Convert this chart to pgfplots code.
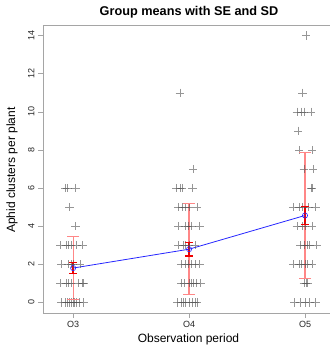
\documentclass[border=0pt]{standalone}
\usepackage{fontspec}
\setmainfont{Liberation Sans}
\usepackage{pgfplots}
\pgfplotsset{compat=1.18}
\definecolor{sdpink}{RGB}{255,135,135}
\definecolor{sered}{RGB}{240,0,0}
\definecolor{axgray}{RGB}{165,165,165}
\definecolor{ptgray}{RGB}{80,80,80}
\begin{document}
\begin{tikzpicture}
\useasboundingbox (-43pt,-36pt) rectangle (287pt,313pt);
\begin{axis}[
  at={(0,0)}, anchor=south west,
  scale only axis, width=287pt, height=288pt,
  xmin=0.74, xmax=3.2155, ymin=-0.56, ymax=14.56,
  axis x line*=box, axis y line*=left,
  axis line style={axgray, line width=0.8pt},
  xtick={1,2,3}, xticklabels={O3,O4,O5}, xtick pos=bottom,
  ytick={0,2,4,6,8,10,12,14},
  tick align=outside, major tick length=5pt,
  tick style={axgray, line width=0.6pt},
  ticklabel style={font=\fontsize{9}{10}\selectfont, text=black!85},
  yticklabel style={rotate=90, anchor=south},
  /pgf/number format/assume math mode=true,
  clip=false,
]
% individual observations
\addplot[only marks, mark=+, mark size=4.2pt, draw=ptgray, draw opacity=0.6, line width=0.45pt] coordinates {
(0.93,6) (0.95,6) (1.02,6)
(0.97,5) (1.02,4)
(0.89,3) (0.94,3) (0.96,3) (0.98,3) (1.03,3) (1.08,3)
(0.90,2) (0.96,2) (0.98,2) (1.00,2) (1.06,2)
(0.89,1) (0.94,1) (0.96,1) (0.98,1) (1.04,1) (1.08,1) (1.09,1)
(0.90,0) (0.93,0) (0.95,0) (0.97,0) (0.98,0) (1.00,0) (1.01,0) (1.03,0) (1.05,0) (1.09,0)
(1.92,11) (2.035,7)
(1.89,6) (1.92,6) (1.94,6) (2.03,6)
(1.91,5) (1.94,5) (1.97,5) (2.00,5) (2.07,5)
(1.91,4) (1.97,4) (1.99,4) (2.02,4) (2.09,4)
(1.91,3) (1.95,3) (1.97,3) (2.00,3) (2.05,3)
(1.93,2) (1.97,2) (1.99,2) (2.02,2) (2.05,2) (2.09,2)
(1.93,1) (1.96,1) (2.00,1) (2.02,1) (2.04,1) (2.06,1) (2.10,1)
(1.90,0) (1.93,0) (1.95,0) (1.97,0) (2.00,0) (2.03,0) (2.05,0) (2.07,0)
(3.01,14) (2.98,11)
(2.93,10) (2.97,10) (2.99,10) (3.05,10)
(2.94,9)
(2.95,8) (3.06,8)
(2.99,7) (3.07,7)
(3.05,6) (3.06,6)
(2.90,5) (2.95,5) (2.98,5) (3.03,5) (3.09,5)
(2.93,4) (2.98,4) (3.00,4) (3.06,4)
(2.96,3) (2.99,3) (3.02,3) (3.04,3) (3.10,3)
(2.90,2) (2.95,2) (2.97,2) (3.00,2) (3.02,2) (3.06,2)
(2.99,1) (3.01,1) (3.02,1)
(2.91,0) (2.96,0) (3.00,0) (3.04,0) (3.09,0)
};
% SD bars (mean - SD to mean + SD)
\addplot[draw=sdpink, line width=1.25pt, mark=-, mark size=6pt, mark options={solid, draw=sdpink, line width=1.1pt}] coordinates {(1,0.14) (1,3.46)};
\addplot[draw=sdpink, line width=1.25pt, mark=-, mark size=6pt, mark options={solid, draw=sdpink, line width=1.1pt}] coordinates {(2,0.41) (2,5.17)};
\addplot[draw=sdpink, line width=1.25pt, mark=-, mark size=6pt, mark options={solid, draw=sdpink, line width=1.1pt}] coordinates {(3,1.24) (3,7.88)};
% SE bars (mean - SE to mean + SE)
\addplot[draw=sered, line width=1.4pt, mark=-, mark size=3.8pt, mark options={solid, draw=sered, line width=1.3pt}] coordinates {(1,1.51) (1,2.09)};
\addplot[draw=sered, line width=1.4pt, mark=-, mark size=3.8pt, mark options={solid, draw=sered, line width=1.3pt}] coordinates {(2,2.43) (2,3.15)};
\addplot[draw=sered, line width=1.4pt, mark=-, mark size=3.8pt, mark options={solid, draw=sered, line width=1.3pt}] coordinates {(3,4.09) (3,5.03)};
% means
\addplot[color=blue!85!white, line width=0.8pt, mark=o, mark size=2.6pt, mark options={line width=0.6pt, fill=white}]
  coordinates {(1,1.80) (2,2.79) (3,4.56)};
\end{axis}
\node[font=\bfseries\fontsize{12.7}{14}\selectfont] at (146pt,301pt) {Group means with SE and SD};
\node[font=\fontsize{12}{14}\selectfont, rotate=90] at (-31pt,143pt) {Aphid clusters per plant};
\node[font=\fontsize{12}{14}\selectfont] at (145.5pt,-26pt) {Observation period};
\end{tikzpicture}
\end{document}
